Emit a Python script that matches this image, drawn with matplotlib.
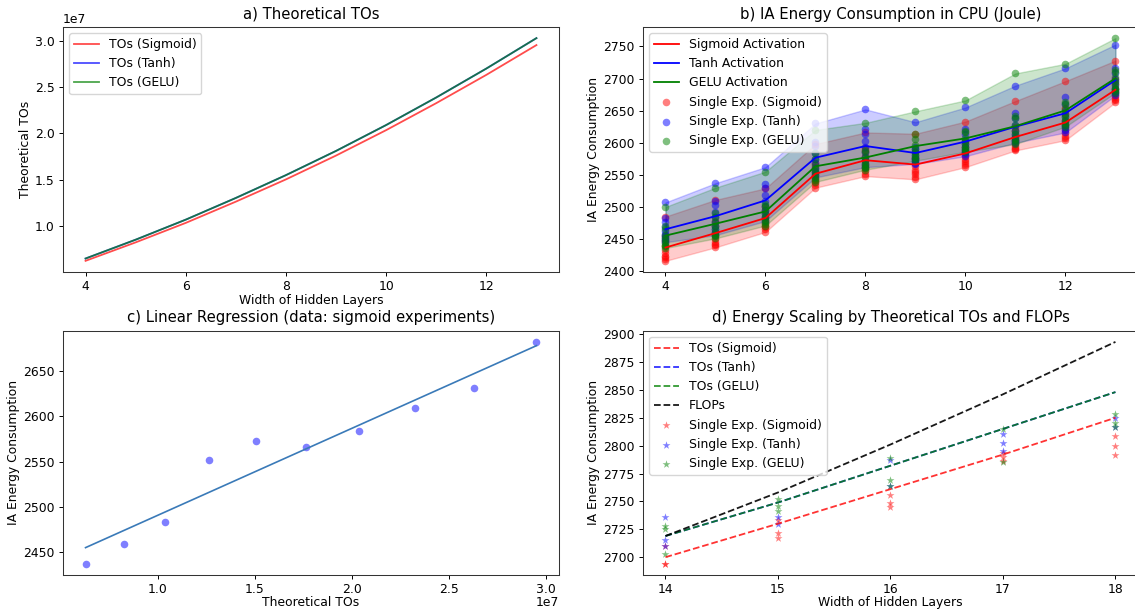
import numpy as np
import matplotlib
matplotlib.use("Agg")
import matplotlib.pyplot as plt

plt.rcParams.update({
    "font.family": "DejaVu Sans",
    "font.size": 8.9,
    "axes.titlesize": 10.7,
    "axes.labelsize": 8.9,
    "xtick.labelsize": 8.9,
    "ytick.labelsize": 8.9,
    "legend.fontsize": 8.9,
    "lines.linewidth": 1.3,
    "axes.linewidth": 0.75,
    "axes.edgecolor": "#333333",
    "xtick.major.size": 3.1,
    "ytick.major.size": 3.1,
    "xtick.major.width": 0.7,
    "ytick.major.width": 0.7,
    "xtick.major.pad": 3.0,
    "ytick.major.pad": 3.0,
    "axes.labelpad": 2.0,
})

# ---- hidden-layer widths and theoretical operation counts ----
widths = [4, 5, 6, 7, 8, 9, 10, 11, 12, 13]
tos_sigmoid = [6.27e6, 8.26e6, 1.036e7, 1.265e7, 1.505e7, 1.762e7, 2.036e7, 2.327e7, 2.632e7, 2.953e7]
tos_tanh = [6.52e6, 8.55e6, 1.071e7, 1.305e7, 1.551e7, 1.812e7, 2.091e7, 2.388e7, 2.700e7, 3.028e7]
tos_gelu = [6.52e6, 8.55e6, 1.071e7, 1.305e7, 1.551e7, 1.812e7, 2.091e7, 2.388e7, 2.700e7, 3.028e7]

# ---- measured CPU energy (Joule), one row of runs per width ----
runs_sigmoid = [
    [2416, 2419, 2422, 2424, 2428, 2433, 2439, 2447, 2454, 2485],
    [2437, 2440, 2443, 2446, 2450, 2456, 2461, 2470, 2478, 2511],
    [2461, 2465, 2468, 2471, 2475, 2480, 2485, 2493, 2500, 2529],
    [2530, 2534, 2537, 2540, 2544, 2549, 2554, 2562, 2569, 2598],
    [2548, 2552, 2556, 2560, 2566, 2572, 2579, 2587, 2592, 2616],
    [2543, 2547, 2551, 2554, 2558, 2563, 2568, 2577, 2585, 2614],
    [2562, 2565, 2568, 2571, 2575, 2580, 2585, 2594, 2601, 2633],
    [2588, 2590, 2592, 2595, 2600, 2605, 2611, 2619, 2625, 2665],
    [2604, 2608, 2611, 2615, 2621, 2627, 2634, 2645, 2654, 2696],
    [2663, 2666, 2668, 2671, 2675, 2679, 2684, 2692, 2699, 2728],
]
runs_tanh = [
    [2445, 2448, 2451, 2454, 2458, 2463, 2468, 2476, 2482, 2507],
    [2456, 2461, 2466, 2471, 2477, 2484, 2492, 2503, 2509, 2537],
    [2478, 2484, 2490, 2495, 2502, 2509, 2518, 2529, 2535, 2562],
    [2546, 2551, 2556, 2561, 2568, 2575, 2584, 2595, 2601, 2630],
    [2562, 2567, 2573, 2578, 2585, 2594, 2603, 2614, 2621, 2652],
    [2567, 2569, 2571, 2574, 2577, 2581, 2585, 2591, 2593, 2632],
    [2579, 2582, 2585, 2588, 2593, 2598, 2604, 2613, 2621, 2655],
    [2600, 2602, 2605, 2609, 2614, 2620, 2627, 2638, 2646, 2689],
    [2616, 2620, 2624, 2628, 2634, 2641, 2649, 2661, 2671, 2716],
    [2674, 2677, 2680, 2683, 2688, 2694, 2700, 2709, 2717, 2753],
]
runs_gelu = [
    [2436, 2439, 2441, 2444, 2448, 2452, 2457, 2465, 2471, 2500],
    [2451, 2454, 2457, 2460, 2465, 2470, 2476, 2485, 2490, 2530],
    [2471, 2474, 2476, 2479, 2484, 2489, 2495, 2502, 2505, 2555],
    [2539, 2542, 2545, 2549, 2554, 2559, 2566, 2575, 2584, 2620],
    [2558, 2560, 2562, 2565, 2569, 2573, 2578, 2585, 2589, 2631],
    [2572, 2575, 2578, 2581, 2586, 2591, 2597, 2606, 2613, 2649],
    [2586, 2588, 2591, 2594, 2598, 2603, 2608, 2616, 2618, 2666],
    [2598, 2601, 2604, 2608, 2613, 2619, 2627, 2638, 2642, 2708],
    [2625, 2628, 2631, 2635, 2640, 2645, 2652, 2661, 2664, 2723],
    [2678, 2681, 2683, 2686, 2691, 2696, 2702, 2710, 2713, 2763],
]

# ---- extrapolation to wider layers ----
widths_ext = [14, 15, 16, 17, 18]
pred_tos_sigmoid = [2700, 2730, 2761, 2792, 2825]
pred_tos_tanh = [2719, 2749, 2782, 2815, 2848]
pred_tos_gelu = [2719, 2749, 2782, 2815, 2848]
pred_flops = [2719, 2758, 2801, 2846, 2893]

ext_sigmoid = [[2694, 2694, 2710], [2733, 2722, 2717], [2756, 2749, 2745],
               [2793, 2790, 2786], [2809, 2800, 2792]]
ext_tanh = [[2736, 2715, 2710], [2736, 2730], [2787, 2764],
            [2810, 2802, 2795], [2825, 2817]]
ext_gelu = [[2728, 2725, 2703], [2752, 2746, 2741], [2789, 2769, 2764],
            [2815, 2785], [2828, 2820, 2817]]

fig = plt.figure(figsize=(11.35, 6.12), dpi=100)
ax_a = fig.add_axes([0.0555, 0.5556, 0.4370, 0.4003])
ax_b = fig.add_axes([0.5665, 0.5556, 0.4361, 0.4003])
ax_c = fig.add_axes([0.0555, 0.0605, 0.4370, 0.3990])
ax_d = fig.add_axes([0.5665, 0.0605, 0.4361, 0.3990])

# a) theoretical operation counts
ax_a.plot(widths, tos_sigmoid, color="red", alpha=0.7, label="TOs (Sigmoid)")
ax_a.plot(widths, tos_tanh, color="blue", alpha=0.7, label="TOs (Tanh)")
ax_a.plot(widths, tos_gelu, color="green", alpha=0.7, label="TOs (GELU)")
ax_a.set_title("a) Theoretical TOs")
ax_a.set_xlabel("Width of Hidden Layers", labelpad=0.5)
ax_a.set_ylabel("Theoretical TOs")
ax_a.legend(loc="upper left")

# b) measured energy per activation
series = [
    ("Sigmoid", runs_sigmoid, "red"),
    ("Tanh", runs_tanh, "blue"),
    ("GELU", runs_gelu, "green"),
]
means = {}
for name, runs, col in series:
    arr = np.array(runs, dtype=float)
    means[name] = arr.mean(axis=1)
    ax_b.plot(widths, means[name], color=col, label=f"{name} Activation")
    ax_b.fill_between(widths, arr.min(axis=1), arr.max(axis=1), color=col, alpha=0.2)
for name, runs, col in series:
    xs = np.repeat(widths, [len(r) for r in runs])
    ys = np.concatenate(runs)
    ax_b.scatter(xs, ys, color=col, alpha=0.5, s=30, linewidths=0,
                 label=f"Single Exp. ({name})")
ax_b.set_title("b) IA Energy Consumption in CPU (Joule)")
ax_b.set_ylabel("IA Energy Consumption")
ax_b.legend(loc="upper left")

# c) linear fit of sigmoid energy against theoretical operations
x_c = np.array(tos_sigmoid)
y_c = means["Sigmoid"]
slope, intercept = np.polyfit(x_c, y_c, 1)
ax_c.scatter(x_c, y_c, color="blue", alpha=0.5, s=30, linewidths=0)
ax_c.plot(x_c, slope * x_c + intercept, color="#3a7ab8", lw=1.2)
ax_c.set_title("c) Linear Regression (data: sigmoid experiments)")
ax_c.set_xlabel("Theoretical TOs", labelpad=0)
ax_c.set_ylabel("IA Energy Consumption")
ax_c.xaxis.OFFSETTEXTPAD = 0

# d) scaling predictions vs. single experiments
ax_d.plot(widths_ext, pred_tos_sigmoid, "--", color="red", alpha=0.8, label="TOs (Sigmoid)")
ax_d.plot(widths_ext, pred_tos_tanh, "--", color="blue", alpha=0.8, label="TOs (Tanh)")
ax_d.plot(widths_ext, pred_tos_gelu, "--", color="green", alpha=0.8, label="TOs (GELU)")
ax_d.plot(widths_ext, pred_flops, "--", color="black", alpha=0.9, label="FLOPs")
for name, runs, col in [("Sigmoid", ext_sigmoid, "red"),
                        ("Tanh", ext_tanh, "blue"),
                        ("GELU", ext_gelu, "green")]:
    xs = np.repeat(widths_ext, [len(r) for r in runs])
    ys = np.concatenate(runs)
    ax_d.scatter(xs, ys, marker="*", color=col, alpha=0.5, s=36, linewidths=0,
                 label=f"Single Exp. ({name})")
ax_d.set_xticks(widths_ext)
ax_d.set_title("d) Energy Scaling by Theoretical TOs and FLOPs")
ax_d.set_xlabel("Width of Hidden Layers", labelpad=0)
ax_d.set_ylabel("IA Energy Consumption")
ax_d.legend(loc="upper left")

fig.savefig("out.png", dpi=100)
